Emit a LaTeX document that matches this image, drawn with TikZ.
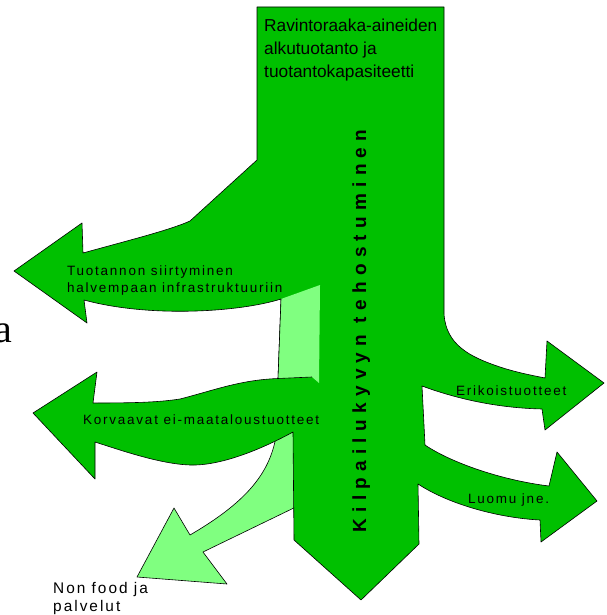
\documentclass[tikz,border=0pt]{standalone}
\usepackage{fontspec}
\setmainfont{Liberation Sans}
\newfontfamily\spaced[LetterSpace=13]{Liberation Sans}
\newfontfamily\vfont[LetterSpace=33]{Liberation Sans}
\newfontfamily\serifa{Liberation Serif}
\definecolor{dkgreen}{RGB}{0,192,0}
\definecolor{ltgreen}{RGB}{128,255,128}
\newcommand{\mylines}[1]{\begin{tabular}[t]{@{}l@{}}#1\end{tabular}}
\begin{document}
\begin{tikzpicture}[x=1pt,y=-1pt,
  shape line/.style={draw=black,line width=0.6pt,line join=round},
  darkshape/.style={shape line,fill=dkgreen},
  lightshape/.style={shape line,fill=ltgreen},
  lbl/.style={inner sep=0pt,font=\spaced\fontsize{13.5}{17}\selectfont,text=black}]
\useasboundingbox (0,0) rectangle (606,615);
\clip (0,0) rectangle (606,615);

% light green "non food" arrow (behind)
\draw[lightshape] (277,430) .. controls (272,470) and (250,500) .. (190,535)
  -- (174,508) -- (137,577) -- (227,584) -- (203,552) -- (300,505) -- (300,430) -- cycle;

% main dark green tree
\draw[darkshape] (257,7) -- (444,7) -- (444,314)
  .. controls (446,345) and (470,357) .. (500,367)
  .. controls (515,372) and (530,375) .. (545,378)
  -- (547,341) -- (604,383) -- (545,430) -- (542,409)
  .. controls (500,408) and (460,400) .. (422,386)
  -- (425,445)
  .. controls (450,462) and (500,480) .. (549,486)
  -- (557,452) -- (597,501) -- (541,542) -- (540,520)
  .. controls (500,518) and (450,505) .. (418,484)
  -- (419,544) -- (361,600) -- (294,540) -- (293,432)
  .. controls (260,450) and (220,466) .. (190,465)
  .. controls (160,464) and (120,450) .. (95,442)
  -- (95,479) -- (33,413) -- (97,372) -- (93,403)
  .. controls (140,403) and (160,402) .. (180,399)
  .. controls (215,390) and (240,380) .. (278,378.5)
  -- (281,299)
  .. controls (240,312) and (150,318) .. (84,300)
  -- (87,323) -- (14,271) -- (82,223) -- (83,253)
  .. controls (130,240) and (170,230) .. (190,221)
  -- (257,160) -- cycle;

% light green strip
\fill[ltgreen] (281,299) -- (320,285) -- (319,383) -- (312,377) -- (278,378.5) -- cycle;
\draw[shape line] (281,299) -- (278,378.5) -- (312,377);

% texts
\node[anchor=north west, inner sep=0pt, font=\fontsize{17.3}{23}\selectfont] (src) at (264,15)
  {\mylines{Ravintoraaka-aineiden\\alkutuotanto ja\\tuotantokapasiteetti}};
\node[lbl, anchor=base west] (tuo) at (67,275) {\mylines{Tuotannon siirtyminen\\halvempaan infrastruktuuriin}};
\node[lbl, anchor=base west] (korv) at (83,424) {Korvaavat ei-maataloustuotteet};
\node[lbl, anchor=base west] (erik) at (456,395) {Erikoistuotteet};
\node[lbl, anchor=base west] (luomu) at (468,503) {Luomu jne.};
\node[lbl, anchor=base west, font=\spaced\fontsize{15.4}{18}\selectfont] (nonfood) at (53,593) {\mylines{Non food ja\\palvelut}};
\node[anchor=base, rotate=90, inner sep=0pt, font=\vfont\bfseries\fontsize{19}{21}\selectfont] (kilp) at (366,331) {Kilpailukyvyn tehostuminen};
\node[anchor=base east, inner sep=0pt, font=\serifa\fontsize{40}{44}\selectfont] (afrag) at (12,342) {a};
\end{tikzpicture}
\end{document}
